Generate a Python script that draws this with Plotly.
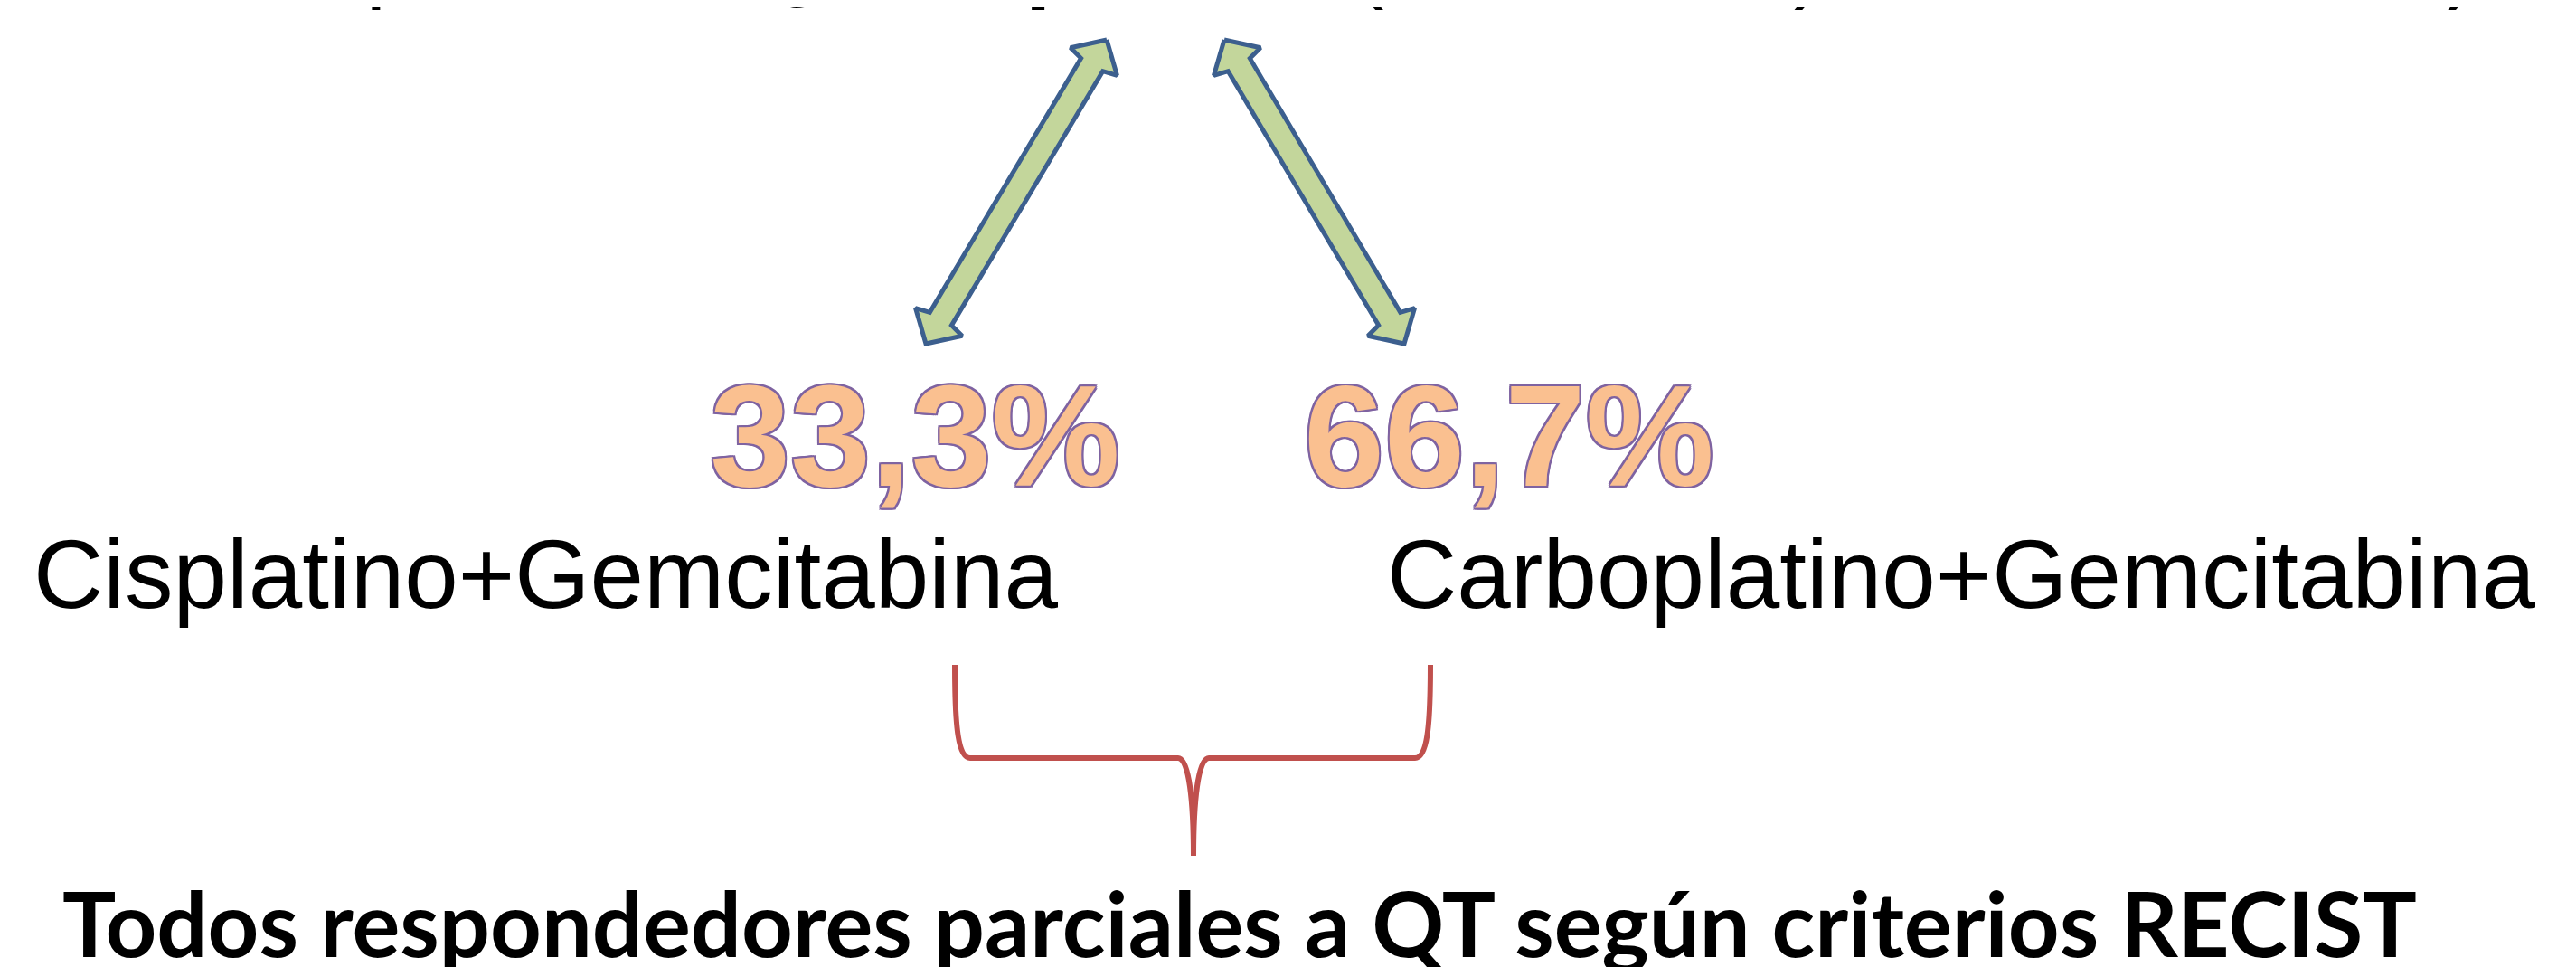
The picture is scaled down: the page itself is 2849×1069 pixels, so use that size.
import math
import plotly.graph_objects as go

W, H = 2849, 1069

# ---- content ----
top_line = "Respuesta a QT de <b>platino</b> (Cis/Carbo) + Gemcitabina)"
percent_labels = ["33,3%", "66,7%"]
treatments = ["Cisplatino+Gemcitabina", "Carboplatino+Gemcitabina"]
footer = "Todos respondedores parciales a QT según criterios RECIST"

# layout anchors (pixel space)
percent_x = [1004, 1661]
treatment_x = [596, 2161]
arrow_top = [(1216, 36), (1346, 36)]
arrow_bottom = [(1016, 372), (1545, 372)]

fig = go.Figure()


def double_arrow(a, b, shaft=14, head_w=30, head_l=28, join_l=32):
    ax, ay = a
    bx, by = b
    L = math.hypot(bx - ax, by - ay)
    ux, uy = (bx - ax) / L, (by - ay) / L
    nx, ny = -uy, ux

    def p(base, along, perp):
        return (base[0] + ux * along + nx * perp, base[1] + uy * along + ny * perp)

    pts = [
        a,
        p(a, head_l, head_w),
        p(a, join_l, shaft),
        p(b, -join_l, shaft),
        p(b, -head_l, head_w),
        b,
        p(b, -head_l, -head_w),
        p(b, -join_l, -shaft),
        p(a, join_l, -shaft),
        p(a, head_l, -head_w),
        a,
    ]
    return [q[0] for q in pts], [q[1] for q in pts]


for a, b in zip(arrow_top, arrow_bottom):
    xs, ys = double_arrow(a, b)
    fig.add_trace(go.Scatter(
        x=xs, y=ys, mode="lines", fill="toself",
        fillcolor="#C3D69B", line=dict(color="#3C5F8E", width=5),
        hoverinfo="skip", showlegend=False))

# curly brace
brace = ("M 1048 727 C 1048 798, 1052 830, 1065 830 L 1295 830 "
         "C 1307 830, 1312 878, 1312 938 C 1312 878, 1317 830, 1329 830 "
         "L 1557 830 C 1570 830, 1574 798, 1574 727")
fig.add_shape(type="path", path=brace, xref="x", yref="y",
              line=dict(color="#C0504D", width=6))


def py(pix):
    return 1 - pix / H


ann = []
ann.append(dict(x=213 / W, y=py(-53), xref="paper", yref="paper", xanchor="left",
                yanchor="middle", text=top_line, showarrow=False,
                font=dict(family="Liberation Sans, Arial", size=102, color="black")))

outline = "#7F63A1"
shadow = ", ".join(f"{dx}px {dy}px 0 {outline}" for dx, dy in
                   [(2, 0), (-2, 0), (0, 2), (0, -2), (2, 2), (-2, -2), (2, -2), (-2, 2)])
for t, x in zip(percent_labels, percent_x):
    ann.append(dict(x=x, y=473, xref="x", yref="y", xanchor="center", yanchor="middle",
                    text=f"<b>{t}</b>", showarrow=False,
                    font=dict(family="Liberation Sans, Arial", size=160, color="#FAC090",
                              shadow=shadow)))
for t, x in zip(treatments, treatment_x):
    ann.append(dict(x=x, y=627, xref="x", yref="y", xanchor="center", yanchor="middle",
                    text=t, showarrow=False,
                    font=dict(family="Liberation Sans, Arial", size=107, color="black")))
ann.append(dict(x=1363, y=1011, xref="x", yref="y", xanchor="center", yanchor="middle",
                text=f"<b>{footer}</b>", showarrow=False,
                font=dict(family="Lato", size=99, color="black")))

fig.update_layout(
    width=W, height=H, margin=dict(l=0, r=0, t=0, b=0),
    paper_bgcolor="white", plot_bgcolor="white",
    xaxis=dict(range=[0, W], visible=False, fixedrange=True),
    yaxis=dict(range=[H, 0], visible=False, fixedrange=True),
    annotations=ann, showlegend=False,
)

fig.write_html("out.html", config={"displayModeBar": False})
